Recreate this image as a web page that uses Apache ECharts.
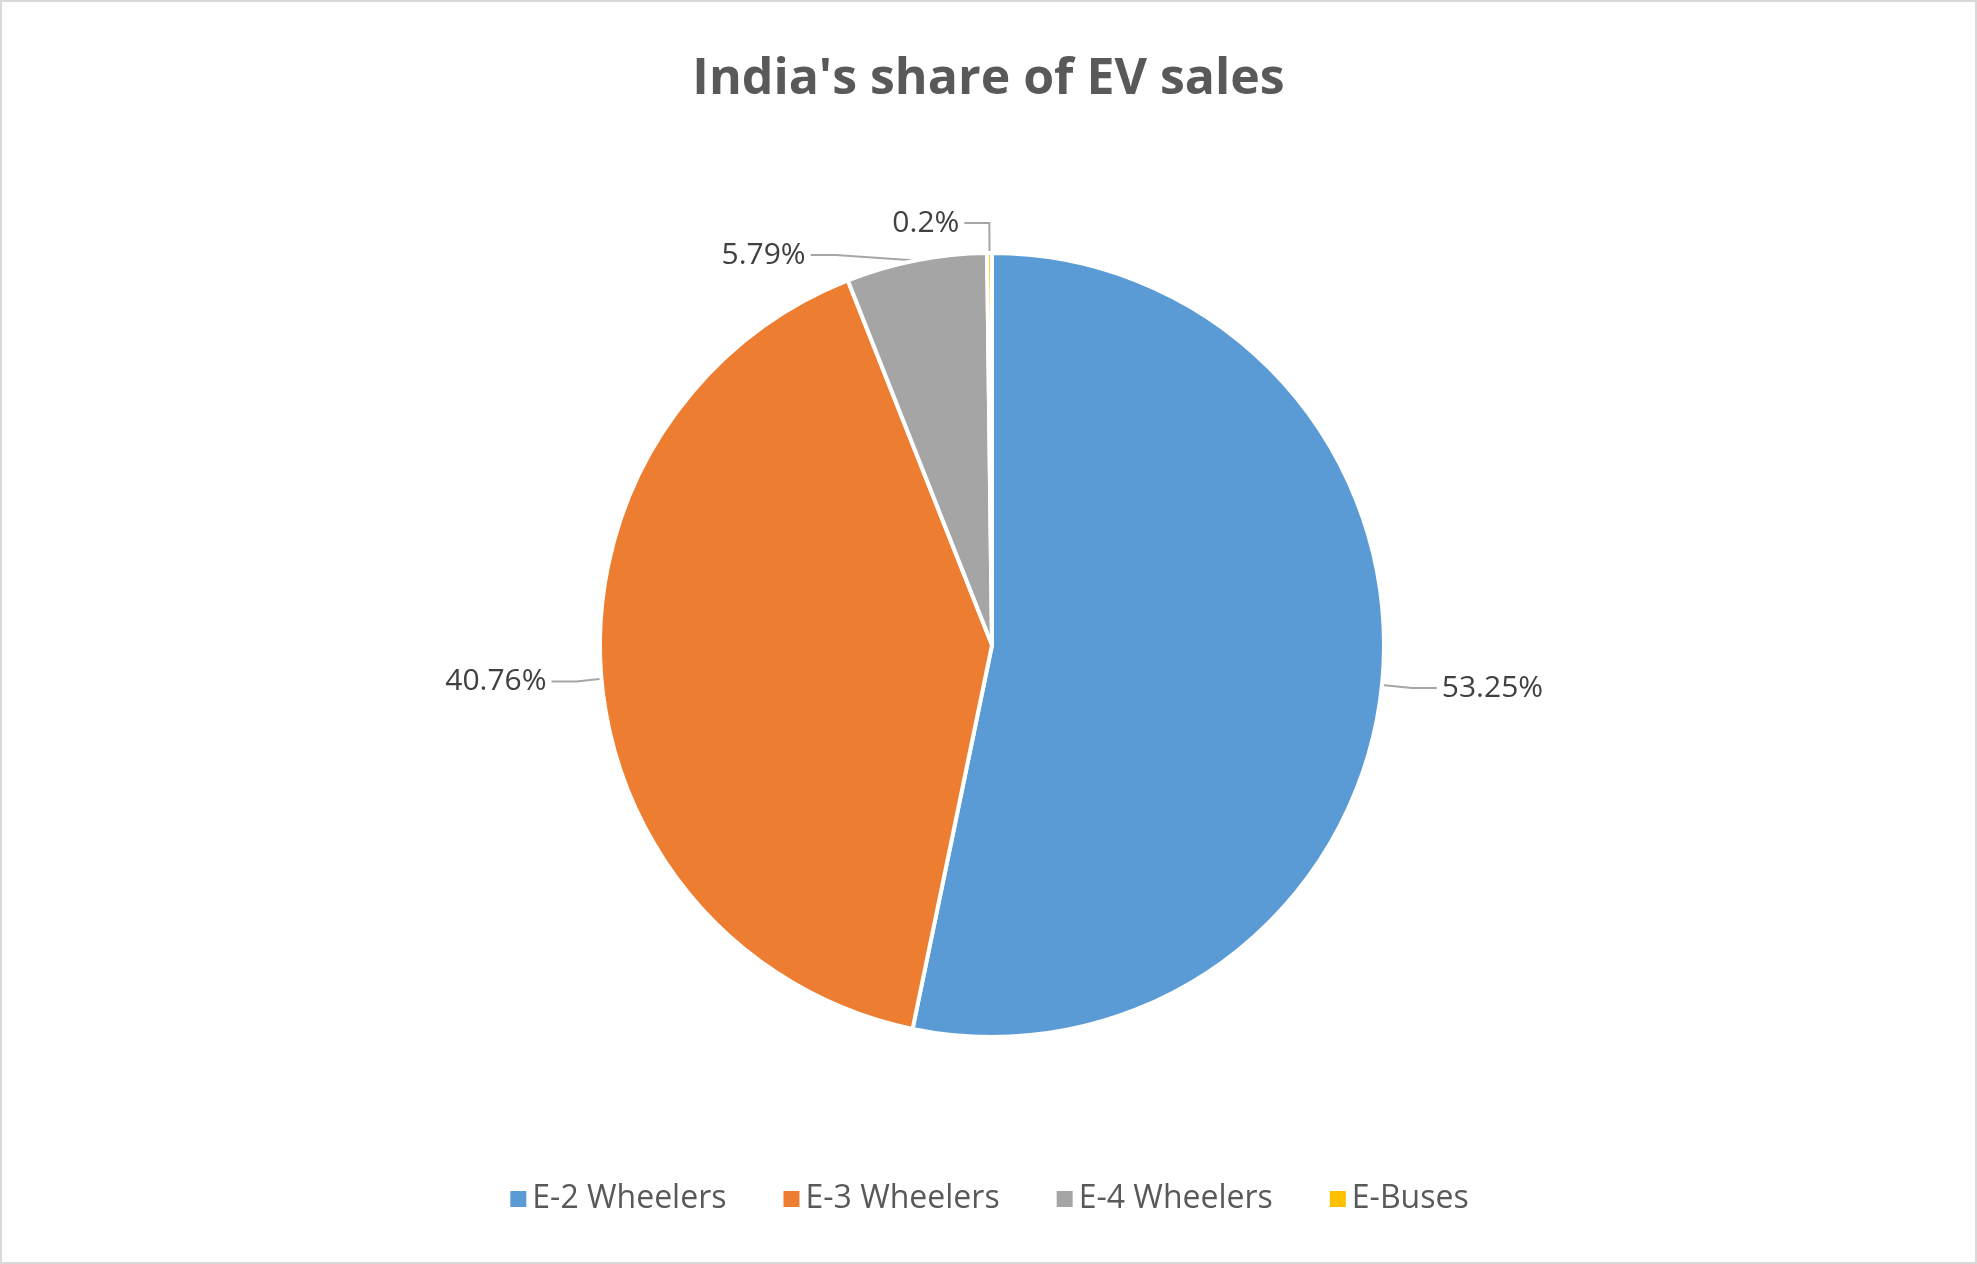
<!DOCTYPE html>
<html><head><meta charset="utf-8">
<script src="https://cdn.jsdelivr.net/npm/echarts@6/dist/echarts.min.js"></script>
<style>html,body{margin:0;padding:0;background:#fff}#c{width:1977px;height:1264px;box-sizing:border-box;border:2px solid #d9d9d9}</style>
</head><body><div id="c"></div>
<script>
const categories = ["E-2 Wheelers","E-3 Wheelers","E-4 Wheelers","E-Buses"];
const values = [53.3, 40.8, 5.8, 0.2];
const colors = ["#5B9BD5","#ED7D31","#A5A5A5","#FFC000"];
const chart = echarts.init(document.getElementById('c'));
chart.setOption({
  animation:false,
  title:{text:"India's share of EV sales",left:'center',top:48,textStyle:{fontFamily:'Open Sans, Calibri, sans-serif',fontSize:50,fontWeight:'bold',color:'#595959'}},
  legend:{bottom:42,left:'center',itemWidth:18,itemHeight:18,itemGap:55,icon:'rect',textStyle:{fontFamily:'Open Sans, sans-serif',fontSize:32,color:'#595959'},data:categories},
  series:[{type:'pie',center:[990,643],radius:[0,392],startAngle:90,clockwise:true,
    itemStyle:{borderColor:'#fff',borderWidth:4},
    label:{formatter:'{d}%',fontFamily:'Open Sans, sans-serif',fontSize:30,color:'#404040'},
    labelLine:{length:30,length2:25,lineStyle:{color:'#a6a6a6',width:2}},
    data:categories.map((n,i)=>({name:n,value:values[i],itemStyle:{color:colors[i]}}))
  }]
});
</script></body></html>
